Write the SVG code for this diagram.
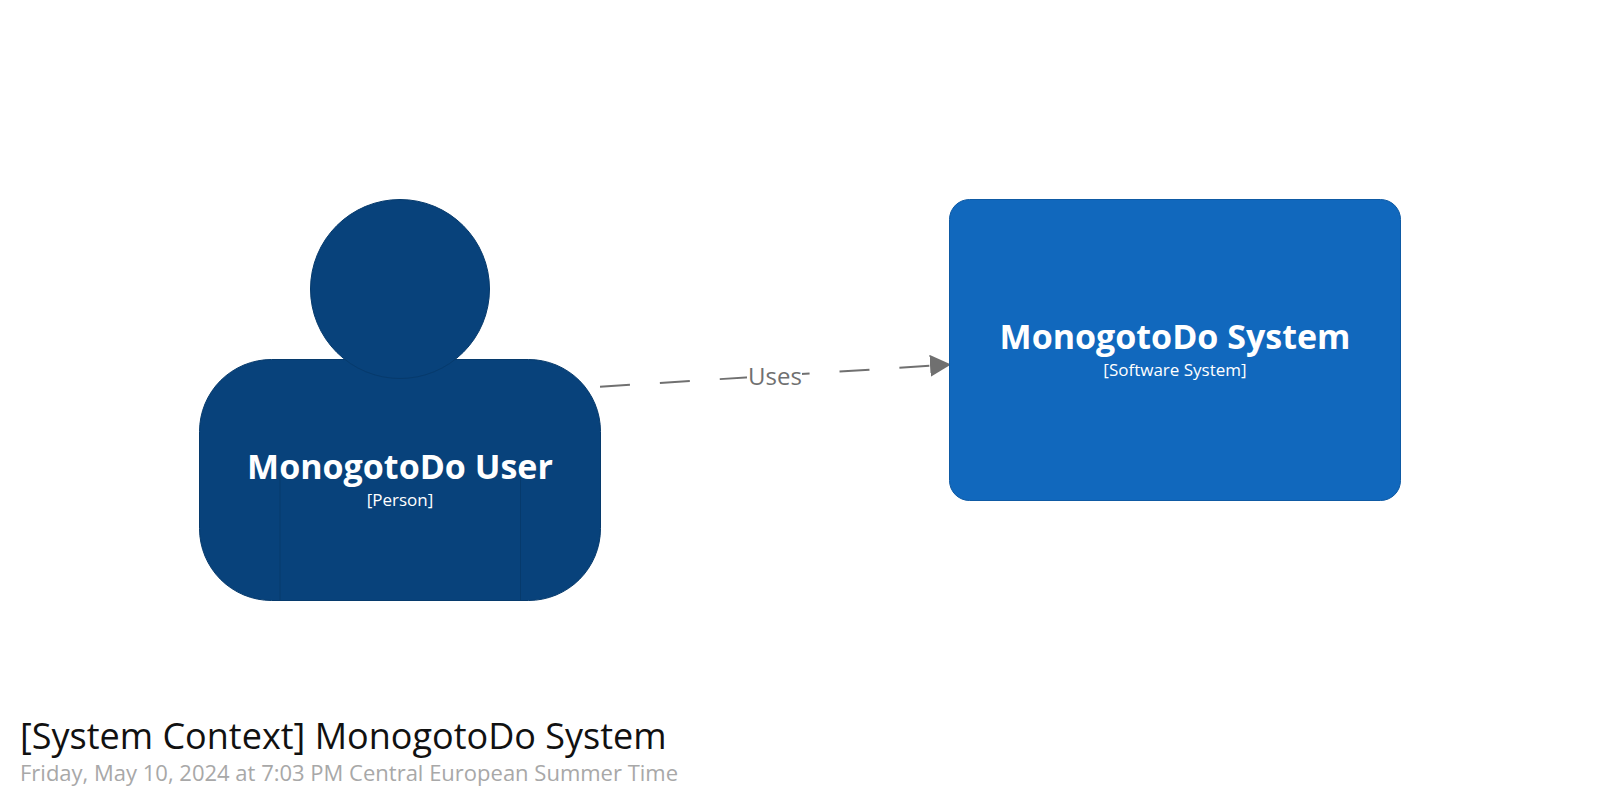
<svg xmlns="http://www.w3.org/2000/svg" width="1600" height="800" viewBox="0 0 1600 800">
<style>
text{font-family:"Open Sans","Noto Sans",sans-serif}
.name{font-size:34px;font-weight:700;fill:#fff;text-anchor:middle}
.meta{font-size:17px;fill:#fff;text-anchor:middle}
.person{fill:#08427b;stroke:#063a6c;stroke-width:1}
.line{fill:none;stroke:#063a6c;stroke-width:1}
</style>
<defs>
<marker id="arrow" markerUnits="userSpaceOnUse" markerWidth="22" markerHeight="24" refX="21" refY="11" orient="auto"><path d="M0 0L21 11L0 22Z" fill="#707070"/></marker>
</defs>
<rect width="1600" height="800" fill="#fff"/>
<g id="connectors">
<path d="M600 386.7L951 364.500" fill="none" stroke="#707070" stroke-width="2" stroke-dasharray="30 30" marker-end="url(#arrow)"/>
<rect x="747" y="360" width="55" height="30" fill="#fff"/>
<text x="775" y="385" font-size="24" fill="#707070" text-anchor="middle">Uses</text>
</g>
<g id="person-user">
<rect class="person" x="199.500" y="359.500" width="401" height="241" rx="72" ry="72"/>
<circle class="person" cx="400" cy="289" r="89.500"/>
<path class="line" d="M280 477V600M520.500 477V600"/>
<text class="name" x="400" y="479">MonogotoDo User</text>
<text class="meta" x="400" y="506">[Person]</text>
</g>
<g id="system">
<rect x="949.500" y="199.500" width="451" height="301" rx="20" ry="20" fill="#1168bd" stroke="#0e5aa4" stroke-width="1"/>
<text class="name" x="1175" y="349">MonogotoDo System</text>
<text class="meta" x="1175" y="376">[Software System]</text>
</g>
<g id="title">
<text x="20" y="749" font-size="36" fill="#111">[System Context] MonogotoDo System</text>
<text x="20" y="781" font-size="22" fill="#a8a8a8">Friday, May 10, 2024 at 7:03 PM Central European Summer Time</text>
</g>
</svg>
